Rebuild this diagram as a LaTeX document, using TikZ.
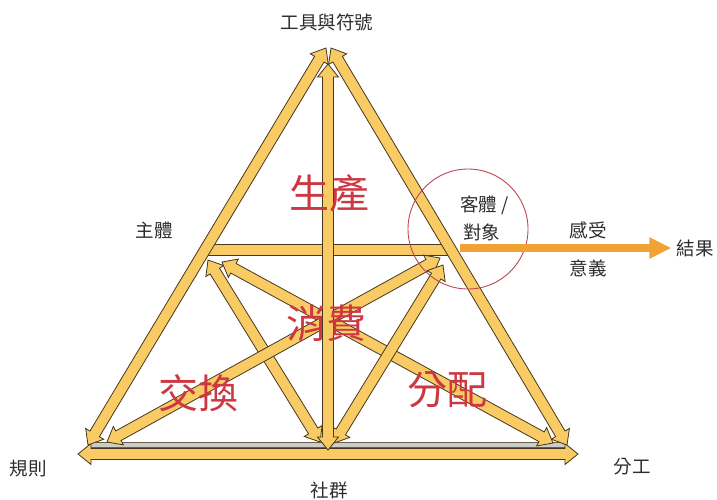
\documentclass[tikz,border=0pt]{standalone}
\usepackage{fontspec}
\newfontfamily\cjk{Noto Sans CJK TC}
\usetikzlibrary{calc,arrows.meta}
\definecolor{arrfill}{RGB}{249,203,100}
\definecolor{arrline}{RGB}{70,55,30}
\definecolor{greybar}{RGB}{205,205,200}
\definecolor{lbl}{RGB}{45,45,45}
\definecolor{redlbl}{RGB}{205,55,65}
\definecolor{orangec}{RGB}{240,162,50}
\definecolor{circc}{RGB}{190,70,85}
\newcommand\hL{13pt}
\newcommand\hH{10.5pt}
\newcommand\hW{5.5pt}
\newcommand\fatarrow[2]{%
  \filldraw[fatstyle] (#1) -- ($(#1)!\hL!(#2)!\hH!90:(#2)$) -- ($(#1)!\hL!(#2)!\hW!90:(#2)$)
   -- ($(#2)!\hL!(#1)!\hW!-90:(#1)$) -- ($(#2)!\hL!(#1)!\hH!-90:(#1)$) -- (#2)
   -- ($(#2)!\hL!(#1)!\hH!90:(#1)$) -- ($(#2)!\hL!(#1)!\hW!90:(#1)$)
   -- ($(#1)!\hL!(#2)!\hW!-90:(#2)$) -- ($(#1)!\hL!(#2)!\hH!-90:(#2)$) -- cycle;}
\newcommand\plainbar[4]{%
  \filldraw[#4] ($(#1)!#3!90:(#2)$) -- ($(#2)!#3!-90:(#1)$) -- ($(#2)!#3!90:(#1)$) -- ($(#1)!#3!-90:(#2)$) -- cycle;}
\tikzset{
  fatstyle/.style={fill=arrfill, draw=arrline, line width=0.8pt, line join=miter},
  greystyle/.style={fill=greybar, draw=arrline!80, line width=0.6pt},
  small/.style={text=lbl, inner sep=0pt, font=\cjk\fontsize{18.5}{20}\selectfont},
  big/.style={text=redlbl, inner sep=0pt, font=\cjk\fontsize{40}{44}\selectfont},
}
\begin{document}
\begin{tikzpicture}[x=1pt,y=-1pt]
\useasboundingbox (0,0) rectangle (717,499);
% coordinates
\coordinate (LT) at (326,48);  \coordinate (LB) at (88,445);
\coordinate (RT) at (331,48);  \coordinate (RB) at (567,445);
\coordinate (VT) at (328,64);  \coordinate (VB) at (328,450);
\coordinate (BL) at (78,454);  \coordinate (BR) at (578,454);
\coordinate (GL) at (90,445);  \coordinate (GR) at (566,445);
\coordinate (HL) at (204,250); \coordinate (HR) at (452,250);
\coordinate (S1) at (208,260); \coordinate (B1) at (320,442);
\coordinate (S2) at (222,262); \coordinate (B2) at (553,443);
\coordinate (O1) at (440,258); \coordinate (B3) at (107,442);
\coordinate (O2) at (443,265); \coordinate (B4) at (334,443);
\coordinate (OS) at (460,248);
% base
\plainbar{GL}{GR}{2.5pt}{greystyle}
\fatarrow{BL}{BR}
% sides
\plainbar{HL}{HR}{5.5pt}{fatstyle}
\fatarrow{LT}{LB}
\fatarrow{RT}{RB}
% inner
\fatarrow{S1}{B1}
\fatarrow{S2}{B2}
\fatarrow{O1}{B3}
\fatarrow{O2}{B4}
\fatarrow{VT}{VB}
% object circle and outcome
\node[draw=circc, line width=0.9pt, circle, minimum size=120pt, inner sep=0pt] (obj) at (468,229) {};
\node[small] (res) at (695,248) {結果};
\draw[orangec, line width=8pt, -{Triangle[length=22pt,width=20pt]}] (OS) -- ([xshift=-5pt]res.west);
% labels
\node[small] (tool) at (327,22) {工具與符號};
\node[small] (subj) at (154,230) {主體};
\node[small] (rule) at (28,469) {規則};
\node[small] (div) at (632,467) {分工};
\node[small] (comm) at (329,490) {社群};
\node[small, anchor=west] (ob1) at (460,205) {客體 /};
\node[small, anchor=west] (ob2) at (463,232) {對象};
\node[small] (feel) at (588,230) {感受};
\node[small] (mean) at (588,268) {意義};
\node[big] (prod) at (329,193) {生產};
\node[big] (cons) at (326,323) {消費};
\node[big] (exch) at (198,393) {交換};
\node[big] (dist) at (447,390) {分配};
\end{tikzpicture}
\end{document}
